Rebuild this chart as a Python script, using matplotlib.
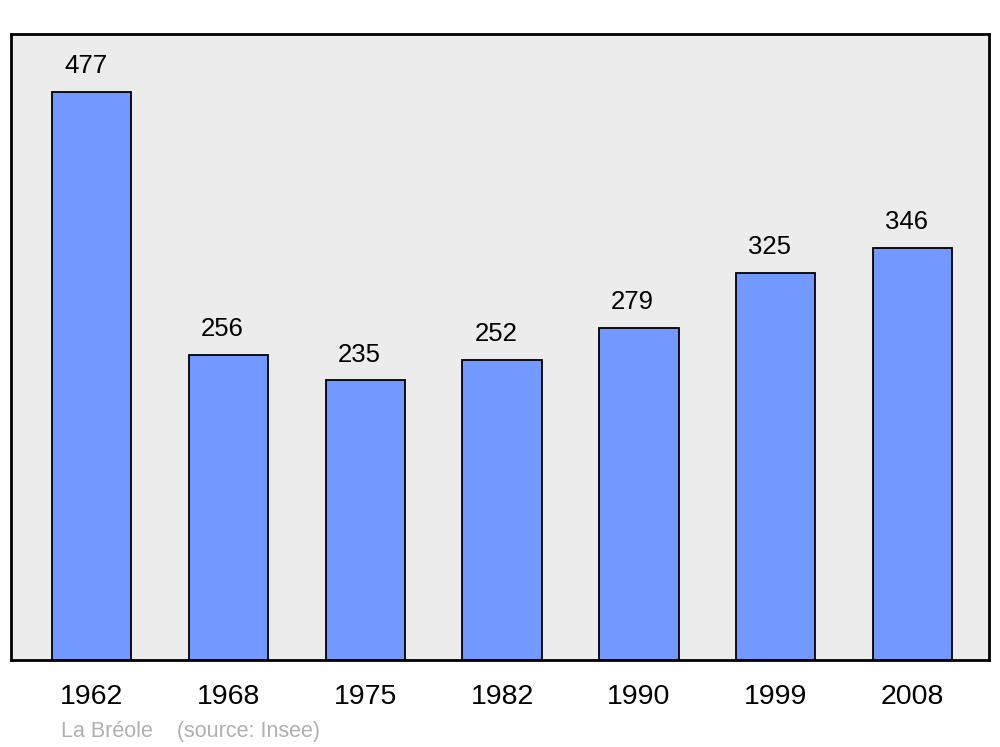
import matplotlib.pyplot as plt

years = ['1962', '1968', '1975', '1982', '1990', '1999', '2008']
population = [477, 256, 235, 252, 279, 325, 346]

fig = plt.figure(figsize=(10, 7.47), dpi=100)
ax = fig.add_axes([0.011, 87 / 747, 0.978, 626 / 747])
ax.set_facecolor('#ececec')

x = list(range(len(years)))
bars = ax.bar(x, population, width=0.58, color='#7299ff', edgecolor='black',
              linewidth=1.3, zorder=2)

for xi, v in zip(x, population):
    ax.text(xi - 0.045, v + 21.5, str(v), ha='center', va='center',
            fontsize=18.5, family='Liberation Sans')

ax.set_xlim(-0.59, 6.56)
ax.set_ylim(0, 525.6)
ax.set_yticks([])
ax.set_xticks(x)
ax.set_xticklabels(years, fontsize=20.5, family='Liberation Sans')
ax.tick_params(axis='x', length=0, pad=17.5)
for s in ax.spines.values():
    s.set_linewidth(2)

fig.text(0.061, 15.5 / 747, 'La Bréole    (source: Insee)', color='#b0b0b0',
         fontsize=15.5, family='Liberation Sans', va='center')

fig.savefig('out.png', dpi=100)
